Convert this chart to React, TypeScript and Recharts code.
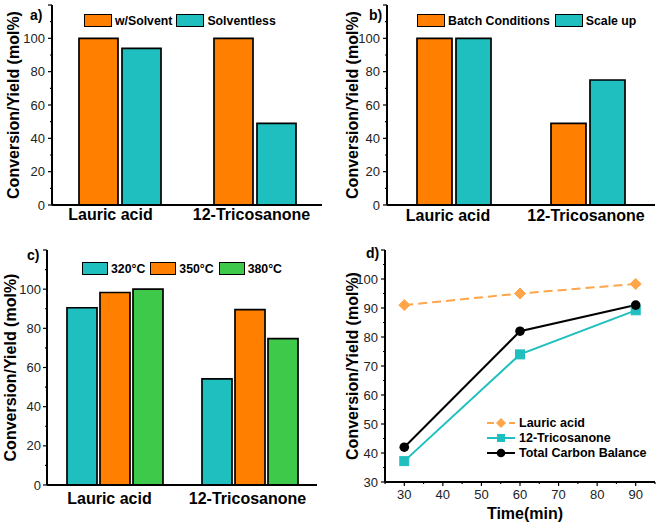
import React from 'react';
import { BarChart, Bar, LineChart, Line, XAxis, YAxis } from 'recharts';

// ---------- data ----------
const barCategories = ['Lauric acid', '12-Tricosanone'];

const panelASeries = ['w/Solvent', 'Solventless'];
const wSolvent = [100, 100];
const solventless = [94, 49];

const panelBSeries = ['Batch Conditions', 'Scale up'];
const batchConditions = [100, 49];
const scaleUp = [100, 75];

const panelCSeries = ['320°C', '350°C', '380°C'];
const temp320 = [90.5, 54.2];
const temp350 = [98.3, 89.6];
const temp380 = [100, 74.7];

const panelDSeries = ['Lauric acid', '12-Tricosanone', 'Total Carbon Balance'];
const timeMin = [30, 60, 90];
const lauricAcid = [91, 95, 98.3];
const tricosanone = [37.2, 74, 89.2];
const totalCarbon = [42, 82, 91];

const barTicks = [0, 10, 20, 30, 40, 50, 60, 70, 80, 90, 100, 110, 120];
const lineYTicks = [30, 35, 40, 45, 50, 55, 60, 65, 70, 75, 80, 85, 90, 95, 100, 105, 110];
const lineXTicks = [25, 30, 35, 40, 45, 50, 55, 60, 65, 70, 75, 80, 85, 90, 95];

const yTitle = 'Conversion/Yield (mol%)';
const xTitleD = 'Time(min)';

// ---------- styles ----------
const FONT = '"Liberation Sans", Arial, Helvetica, sans-serif';
const ORANGE = '#FF8000';
const TEAL = '#1FBFBF';
const GREEN = '#3EC94A';
const LIGHT_ORANGE = '#FFA54A';
const AXIS = { stroke: '#000', strokeWidth: 2 };

const dataA = barCategories.map((name, i) => ({ name, a0: wSolvent[i], a1: solventless[i] }));
const dataB = barCategories.map((name, i) => ({ name, b0: batchConditions[i], b1: scaleUp[i] }));
const dataC = barCategories.map((name, i) => ({ name, c0: temp320[i], c1: temp350[i], c2: temp380[i] }));
const dataD = timeMin.map((t, i) => ({ t, d0: lauricAcid[i], d1: tricosanone[i], d2: totalCarbon[i] }));

const YTick = (p: any) => {
  const v = p.payload.value;
  const r = v / p.step;
  const major = Math.abs(r - Math.round(r)) < 1e-6;
  const show = major && v <= p.maxLabel;
  return (
    <g>
      <line x1={p.x - (major ? 4 : 2)} x2={p.x} y1={p.y} y2={p.y} stroke="#000" strokeWidth={1.2} />
      {show && (
        <text x={p.x - p.gap} y={p.y + 4.5} textAnchor="end" fontSize={13} fill="#222" fontFamily={FONT}>
          {v}
        </text>
      )}
    </g>
  );
};

const XNumTick = (p: any) => {
  const v = p.payload.value;
  const major = v % 10 === 0;
  const show = major && v >= 30 && v <= 90;
  return (
    <g>
      <line x1={p.x} x2={p.x} y1={p.y} y2={p.y + (major ? 4 : 2)} stroke="#000" strokeWidth={1.2} />
      {show && (
        <text x={p.x} y={p.y + 17} textAnchor="middle" fontSize={13} fill="#222" fontFamily={FONT}>
          {v}
        </text>
      )}
    </g>
  );
};

const CatTick = (p: any) => {
  const shift = (p.shifts && p.shifts[p.index]) || 0;
  return (
    <text x={p.x + shift} y={p.y + p.base} textAnchor="middle" fontSize={16} fontWeight="bold" fill="#000" fontFamily={FONT}>
      {p.payload.value}
    </text>
  );
};

const yLabel = (cx: number) => (props: any) => {
  const vb = props.viewBox;
  const x = vb.x + cx;
  const y = vb.y + vb.height / 2;
  return (
    <text
      x={x}
      y={y}
      transform={`rotate(-90, ${x}, ${y})`}
      textAnchor="middle"
      dominantBaseline="central"
      fontSize={16}
      fontWeight="bold"
      fill="#000"
      fontFamily={FONT}
    >
      {yTitle}
    </text>
  );
};

const xLabelD = (props: any) => {
  const vb = props.viewBox;
  return (
    <text x={vb.x + vb.width / 2 + 5} y={vb.y + 37} textAnchor="middle" fontSize={16} fontWeight="bold" fill="#000" fontFamily={FONT}>
      {xTitleD}
    </text>
  );
};

const Diamond = (p: any) => {
  if (p.cx == null || p.cy == null) return null;
  const s = 5.5;
  return (
    <path
      d={`M${p.cx},${p.cy - s}L${p.cx + s},${p.cy}L${p.cx},${p.cy + s}L${p.cx - s},${p.cy}Z`}
      fill={LIGHT_ORANGE}
      stroke={LIGHT_ORANGE}
    />
  );
};
const Square = (p: any) => {
  if (p.cx == null || p.cy == null) return null;
  return <rect x={p.cx - 4.5} y={p.cy - 4.5} width={9} height={9} fill={TEAL} stroke={TEAL} />;
};
const Circle = (p: any) => {
  if (p.cx == null || p.cy == null) return null;
  return <circle cx={p.cx} cy={p.cy} r={4.8} fill="#000" />;
};

const Swatch = ({ color, w }: { color: string; w: number }) => (
  <div style={{ width: w, height: 13, background: color, border: '1.5px solid #000', boxSizing: 'border-box', flex: 'none' }} />
);

const BarLegend = ({ names, colors, left, top, gaps, sw }: any) => (
  <div style={{ position: 'absolute', left, top, display: 'flex', alignItems: 'center', height: 13, fontFamily: FONT, fontWeight: 'bold', fontSize: 12.3, color: '#000', whiteSpace: 'nowrap' }}>
    {names.map((n: string, i: number) => (
      <React.Fragment key={n}>
        <Swatch color={colors[i]} w={sw} />
        <span style={{ marginLeft: 3, marginRight: gaps }}>{n}</span>
      </React.Fragment>
    ))}
  </div>
);

const PanelLetter = ({ text, left, top }: any) => (
  <div style={{ position: 'absolute', left, top, fontFamily: FONT, fontWeight: 'bold', fontSize: 14, lineHeight: '14px', color: '#000' }}>{text}</div>
);

export default function App() {
  return (
    <div style={{ position: 'absolute', left: 0, top: 0, width: 661, height: 524, background: '#fff', overflow: 'hidden' }}>
      {/* Panel a */}
      <div style={{ position: 'absolute', left: 0, top: 0 }}>
        <BarChart width={330} height={262} data={dataA} margin={{ top: 5, right: 8, bottom: 0, left: 0 }} barCategoryGap={27} barGap={4}>
          <XAxis dataKey="name" height={57} tickLine={false} tickSize={0} tickMargin={0} axisLine={AXIS} interval={0} tick={<CatTick base={15} shifts={[-9, -3]} />} />
          <XAxis xAxisId="top" dataKey="name" orientation="top" height={0} tick={false} tickLine={false} axisLine={AXIS} />
          <YAxis width={52} domain={[0, 120]} ticks={barTicks} interval={0} tickLine={false} tickSize={0} tickMargin={0} axisLine={AXIS} tick={<YTick step={20} maxLabel={100} gap={7} />} label={{ value: yTitle, content: yLabel(13) }} />
          <YAxis yAxisId="right" orientation="right" width={0} domain={[0, 1]} tick={false} tickLine={false} axisLine={AXIS} />
          <Bar dataKey="a0" name={panelASeries[0]} fill={ORANGE} stroke="#000" strokeWidth={1.7} isAnimationActive={false} />
          <Bar dataKey="a1" name={panelASeries[1]} fill={TEAL} stroke="#000" strokeWidth={1.7} isAnimationActive={false} />
        </BarChart>
        <BarLegend names={panelASeries} colors={[ORANGE, TEAL]} left={84} top={14} gaps={4} sw={28} />
        <PanelLetter text="a)" left={30} top={8} />
      </div>

      {/* Panel b */}
      <div style={{ position: 'absolute', left: 330, top: 0 }}>
        <BarChart width={331} height={262} data={dataB} margin={{ top: 5, right: 6, bottom: 0, left: 0 }} barCategoryGap={30} barGap={4}>
          <XAxis dataKey="name" height={57} tickLine={false} tickSize={0} tickMargin={0} axisLine={AXIS} interval={0} tick={<CatTick base={16} shifts={[-6, -2]} />} />
          <XAxis xAxisId="top" dataKey="name" orientation="top" height={0} tick={false} tickLine={false} axisLine={AXIS} />
          <YAxis width={57} domain={[0, 120]} ticks={barTicks} interval={0} tickLine={false} tickSize={0} tickMargin={0} axisLine={AXIS} tick={<YTick step={20} maxLabel={100} gap={7} />} label={{ value: yTitle, content: yLabel(22) }} />
          <YAxis yAxisId="right" orientation="right" width={0} domain={[0, 1]} tick={false} tickLine={false} axisLine={AXIS} />
          <Bar dataKey="b0" name={panelBSeries[0]} fill={ORANGE} stroke="#000" strokeWidth={1.7} isAnimationActive={false} />
          <Bar dataKey="b1" name={panelBSeries[1]} fill={TEAL} stroke="#000" strokeWidth={1.7} isAnimationActive={false} />
        </BarChart>
        <BarLegend names={panelBSeries} colors={[ORANGE, TEAL]} left={87} top={14} gaps={5} sw={28} />
        <PanelLetter text="b)" left={39} top={8} />
      </div>

      {/* Panel c */}
      <div style={{ position: 'absolute', left: 0, top: 240 }}>
        <BarChart width={330} height={284} data={dataC} margin={{ top: 10, right: 13, bottom: 0, left: 0 }} barCategoryGap={20} barGap={3}>
          <XAxis dataKey="name" height={39} tickLine={false} tickSize={0} tickMargin={0} axisLine={AXIS} interval={0} tick={<CatTick base={18.5} shifts={[-5, -2]} />} />
          <XAxis xAxisId="top" dataKey="name" orientation="top" height={0} tick={false} tickLine={false} axisLine={AXIS} />
          <YAxis width={47} domain={[0, 120]} ticks={barTicks} interval={0} tickLine={false} tickSize={0} tickMargin={0} axisLine={AXIS} tick={<YTick step={20} maxLabel={100} gap={6} />} label={{ value: yTitle, content: yLabel(10) }} />
          <YAxis yAxisId="right" orientation="right" width={0} domain={[0, 1]} tick={false} tickLine={false} axisLine={AXIS} />
          <Bar dataKey="c0" name={panelCSeries[0]} fill={TEAL} stroke="#000" strokeWidth={1.7} isAnimationActive={false} />
          <Bar dataKey="c1" name={panelCSeries[1]} fill={ORANGE} stroke="#000" strokeWidth={1.7} isAnimationActive={false} />
          <Bar dataKey="c2" name={panelCSeries[2]} fill={GREEN} stroke="#000" strokeWidth={1.7} isAnimationActive={false} />
        </BarChart>
        <BarLegend names={panelCSeries} colors={[TEAL, ORANGE, GREEN]} left={82} top={22} gaps={5} sw={26} />
        <PanelLetter text="c)" left={27} top={8} />
      </div>

      {/* Panel d */}
      <div style={{ position: 'absolute', left: 330, top: 240 }}>
        <LineChart width={331} height={284} data={dataD} margin={{ top: 10, right: 6, bottom: 0, left: 0 }}>
          <XAxis dataKey="t" type="number" domain={[25, 95]} ticks={lineXTicks} interval={0} height={42} tickLine={false} tickSize={0} tickMargin={0} axisLine={AXIS} tick={<XNumTick />} label={{ value: xTitleD, content: xLabelD }} />
          <XAxis xAxisId="top" dataKey="t" type="number" domain={[25, 95]} orientation="top" height={0} tick={false} tickLine={false} axisLine={AXIS} />
          <YAxis width={55} type="number" domain={[30, 110]} ticks={lineYTicks} interval={0} tickLine={false} tickSize={0} tickMargin={0} axisLine={AXIS} tick={<YTick step={10} maxLabel={100} gap={7} />} label={{ value: yTitle, content: yLabel(22) }} />
          <YAxis yAxisId="right" orientation="right" width={0} domain={[0, 1]} tick={false} tickLine={false} axisLine={AXIS} />
          <Line dataKey="d0" name={panelDSeries[0]} stroke={LIGHT_ORANGE} strokeWidth={2} strokeDasharray="9 5" dot={<Diamond />} isAnimationActive={false} />
          <Line dataKey="d1" name={panelDSeries[1]} stroke={TEAL} strokeWidth={2} dot={<Square />} isAnimationActive={false} />
          <Line dataKey="d2" name={panelDSeries[2]} stroke="#000" strokeWidth={2} dot={<Circle />} isAnimationActive={false} />
        </LineChart>
        <div style={{ position: 'absolute', left: 157, top: 175, fontFamily: FONT, fontWeight: 'bold', fontSize: 12.5, color: '#000' }}>
          {panelDSeries.map((n, i) => (
            <div key={n} style={{ display: 'flex', alignItems: 'center', height: 15, whiteSpace: 'nowrap' }}>
              <svg width={28} height={12} style={{ flex: 'none' }}>
                {i === 0 && (
                  <g>
                    <line x1={0} x2={28} y1={6} y2={6} stroke={LIGHT_ORANGE} strokeWidth={2} strokeDasharray="7 4" />
                    <path d="M14,1L19,6L14,11L9,6Z" fill={LIGHT_ORANGE} />
                  </g>
                )}
                {i === 1 && (
                  <g>
                    <line x1={0} x2={28} y1={6} y2={6} stroke={TEAL} strokeWidth={2} />
                    <rect x={10} y={2} width={8} height={8} fill={TEAL} />
                  </g>
                )}
                {i === 2 && (
                  <g>
                    <line x1={0} x2={28} y1={6} y2={6} stroke="#000" strokeWidth={2} />
                    <circle cx={14} cy={6} r={4.3} fill="#000" />
                  </g>
                )}
              </svg>
              <span style={{ marginLeft: 4 }}>{n}</span>
            </div>
          ))}
        </div>
        <PanelLetter text="d)" left={36} top={6} />
      </div>
    </div>
  );
}
